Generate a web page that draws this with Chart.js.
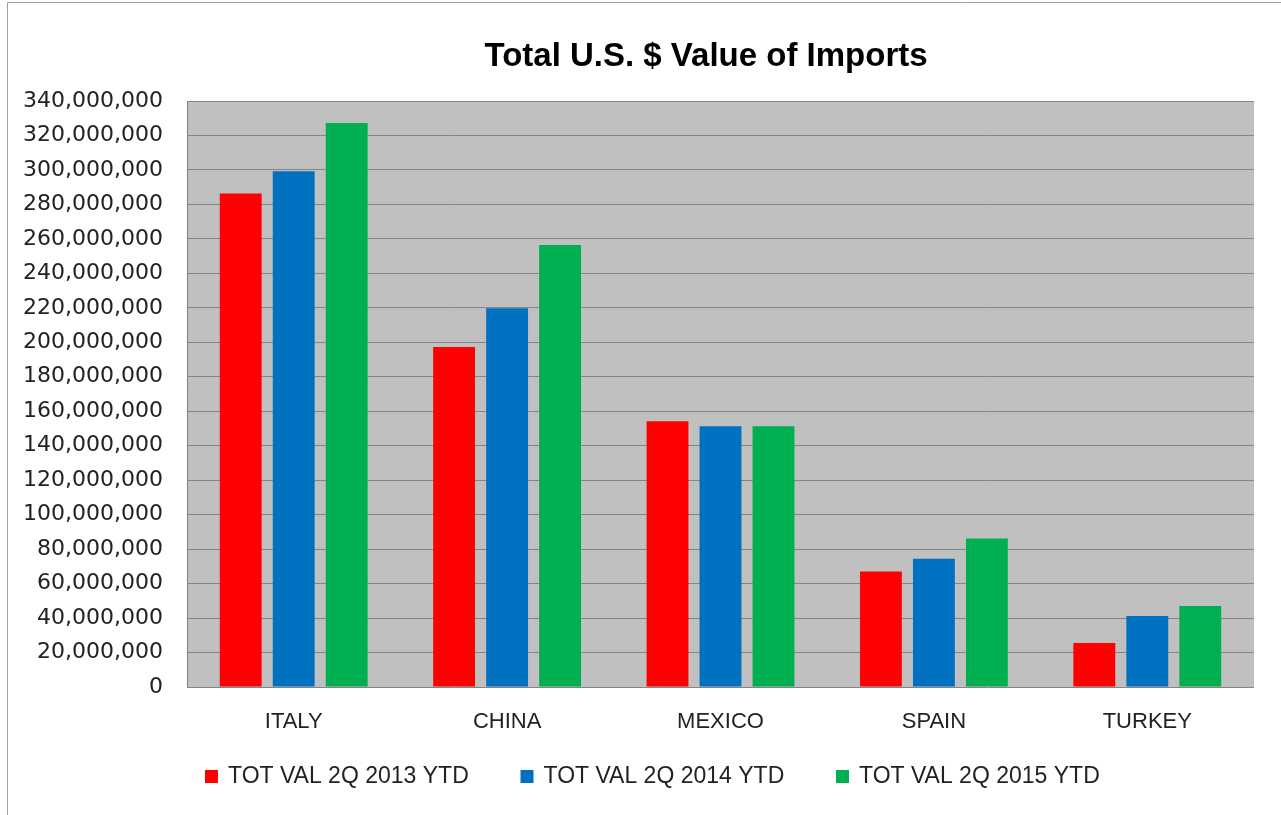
<!DOCTYPE html>
<html>
<head>
<meta charset="utf-8">
<title>Total U.S. $ Value of Imports</title>
<script src="https://cdn.jsdelivr.net/npm/chart.js@4/dist/chart.umd.min.js"></script>
<style>
  html, body { margin: 0; padding: 0; background: #fff; }
  #wrap { position: relative; width: 1281px; height: 815px; }
</style>
</head>
<body>
<div id="wrap"><canvas id="importsChart" width="1281" height="815"></canvas></div>
<script>
// --- Data ---
const countries = ["ITALY", "CHINA", "MEXICO", "SPAIN", "TURKEY"];
const val2013 = [286400000, 197300000, 154200000, 67000000, 25500000];
const val2014 = [299300000, 219700000, 151300000, 74400000, 41200000];
const val2015 = [327300000, 256500000, 151300000, 86200000, 47000000];
const seriesNames = ["TOT VAL 2Q 2013 YTD", "TOT VAL 2Q 2014 YTD", "TOT VAL 2Q 2015 YTD"];
const seriesColors = ["#ff0000", "#0070c0", "#00b050"];
const chartTitle = "Total U.S. $ Value of Imports";
const yMax = 340000000;
const yStep = 20000000;

// grey plot background + outer frame
const plotBackground = {
  id: "plotBackground",
  beforeDraw(chart) {
    const { ctx, chartArea: a } = chart;
    ctx.save();
    ctx.fillStyle = "#c0c0c0";
    ctx.fillRect(a.left, a.top, a.right - a.left, a.bottom - a.top);
    ctx.strokeStyle = "#a0a0a0";
    ctx.lineWidth = 1;
    ctx.beginPath();
    ctx.moveTo(7.5, chart.height);
    ctx.lineTo(7.5, 2.5);
    ctx.lineTo(chart.width, 2.5);
    ctx.stroke();
    ctx.restore();
  }
};

// title and legend drawn by hand so they sit where Excel put them
const titleAndLegend = {
  id: "titleAndLegend",
  afterDraw(chart) {
    const { ctx } = chart;
    ctx.save();
    ctx.fillStyle = "#000";
    ctx.font = "bold 33px 'Liberation Sans'";
    ctx.textAlign = "center";
    ctx.textBaseline = "middle";
    ctx.fillText(chartTitle, 706, 57);

    ctx.font = "23px 'Liberation Sans'";
    ctx.textAlign = "left";
    const startX = 205, pitch = 315.5, y = 777;
    chart.data.datasets.forEach((ds, i) => {
      const x = startX + i * pitch;
      ctx.fillStyle = ds.backgroundColor;
      ctx.fillRect(x, y - 7, 13, 13);
      ctx.fillStyle = "#222";
      ctx.fillText(ds.label, x + 23, y);
    });
    ctx.restore();
  }
};

function renderChart() {
  const ctx = document.getElementById("importsChart").getContext("2d");
  const bar = { barPercentage: 0.79, categoryPercentage: 0.745, borderWidth: 0 };

  new Chart(ctx, {
    type: "bar",
    data: {
      labels: countries,
      datasets: seriesNames.map((name, i) => ({
        label: name,
        data: [val2013, val2014, val2015][i],
        backgroundColor: seriesColors[i],
        ...bar
      }))
    },
    options: {
      responsive: false,
      animation: false,
      layout: { padding: { left: 0, right: 27, top: 101, bottom: 68 } },
      plugins: {
        title: { display: false },
        legend: { display: false },
        tooltip: { enabled: false }
      },
      scales: {
        x: {
          grid: { display: false, drawTicks: false },
          border: { display: false },
          ticks: { color: "#222", font: { family: "Liberation Sans", size: 22 }, padding: 22 },
          afterFit(scale) { scale.height = 60; }
        },
        y: {
          min: 0,
          max: yMax,
          ticks: {
            stepSize: yStep,
            color: "#222",
            padding: 24,
            font: { family: "DejaVu Sans", size: 22 },
            callback: v => v.toLocaleString("en-US")
          },
          grid: { color: "#858585", drawTicks: false, lineWidth: 1 },
          border: { display: true, color: "#808080" },
          afterFit(scale) { scale.width = 187; }
        }
      }
    },
    plugins: [plotBackground, titleAndLegend]
  });
}

window.addEventListener("DOMContentLoaded", renderChart);
</script>
</body>
</html>
